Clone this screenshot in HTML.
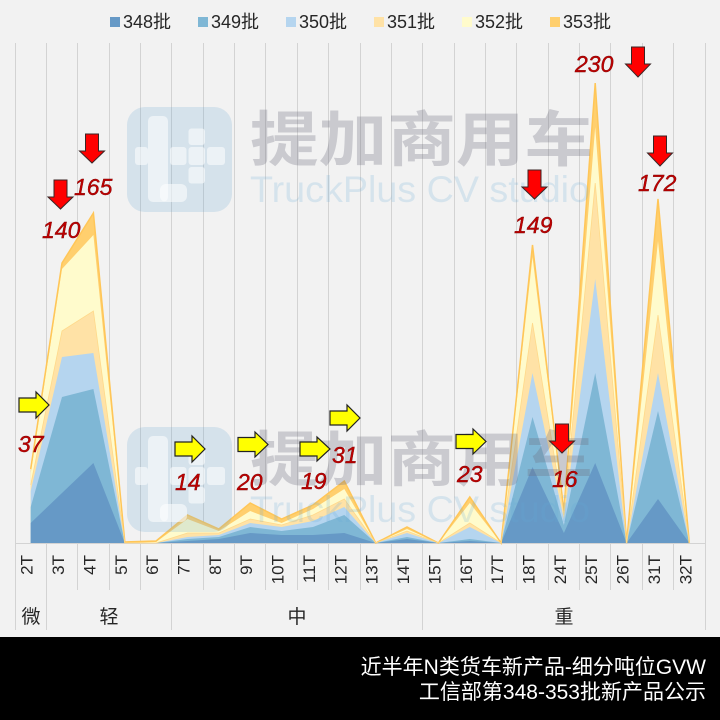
<!DOCTYPE html>
<html><head><meta charset="utf-8"><style>
html,body{margin:0;padding:0;background:#f2f2f2;}
svg{display:block;}
</style></head><body>
<svg width="720" height="720" viewBox="0 0 720 720" xmlns="http://www.w3.org/2000/svg">
<rect x="0" y="0" width="720" height="720" fill="#f2f2f2"/>
<!-- legend -->
<g font-family="'Liberation Sans','Noto Sans CJK SC',sans-serif" font-size="18" fill="#262626">
<rect x="110" y="17" width="10" height="10" fill="#6699C6"/><text x="123" y="28">348批</text>
<rect x="198" y="17" width="10" height="10" fill="#7FB7D5"/><text x="211" y="28">349批</text>
<rect x="286" y="17" width="10" height="10" fill="#B5D5EF"/><text x="299" y="28">350批</text>
<rect x="374" y="17" width="10" height="10" fill="#FFE2A6"/><text x="387" y="28">351批</text>
<rect x="462" y="17" width="10" height="10" fill="#FFFBCC"/><text x="475" y="28">352批</text>
<rect x="550" y="17" width="10" height="10" fill="#FFCF6E"/><text x="563" y="28">353批</text>
</g>
<!-- gridlines -->
<g stroke="#d3d3d3" stroke-width="1">
<line x1="15.5" y1="43" x2="15.5" y2="630"/>
<line x1="46.5" y1="43" x2="46.5" y2="630"/>
<line x1="77.5" y1="43" x2="77.5" y2="590"/>
<line x1="109.5" y1="43" x2="109.5" y2="590"/>
<line x1="140.5" y1="43" x2="140.5" y2="590"/>
<line x1="171.5" y1="43" x2="171.5" y2="630"/>
<line x1="203.5" y1="43" x2="203.5" y2="590"/>
<line x1="234.5" y1="43" x2="234.5" y2="590"/>
<line x1="265.5" y1="43" x2="265.5" y2="590"/>
<line x1="297.5" y1="43" x2="297.5" y2="590"/>
<line x1="328.5" y1="43" x2="328.5" y2="590"/>
<line x1="360.5" y1="43" x2="360.5" y2="590"/>
<line x1="391.5" y1="43" x2="391.5" y2="590"/>
<line x1="422.5" y1="43" x2="422.5" y2="630"/>
<line x1="454.5" y1="43" x2="454.5" y2="590"/>
<line x1="485.5" y1="43" x2="485.5" y2="590"/>
<line x1="516.5" y1="43" x2="516.5" y2="590"/>
<line x1="548.5" y1="43" x2="548.5" y2="590"/>
<line x1="579.5" y1="43" x2="579.5" y2="590"/>
<line x1="610.5" y1="43" x2="610.5" y2="590"/>
<line x1="642.5" y1="43" x2="642.5" y2="590"/>
<line x1="673.5" y1="43" x2="673.5" y2="590"/>
<line x1="705.5" y1="43" x2="705.5" y2="630"/>
<line x1="15" y1="543.5" x2="706" y2="543.5"/>
</g>
<!-- areas -->
<g>
<polygon fill="#FFCF6E" points="30.7,469 62,263 93.4,213 124.8,542 156.1,541 187.5,515 218.9,529 250.2,503 281.6,519 313,505 344.3,481 375.7,543 407,527 438.4,543 469.8,497 501.1,543 532.5,245 563.9,511 595.2,83 626.6,543 658,199 689.3,543 30.7,543"/>
<polygon fill="#FFFBCC" points="30.7,473 62,269 93.4,235 124.8,543 156.1,542 187.5,519 218.9,531 250.2,511 281.6,523 313,509 344.3,489 375.7,543 407,529 438.4,543 469.8,503 501.1,543 532.5,257 563.9,513 595.2,127 626.6,543 658,241 689.3,543 30.7,543"/>
<polygon fill="#FFE2A6" points="30.7,485 62,331 93.4,311 124.8,543 156.1,543 187.5,533 218.9,533 250.2,519 281.6,525 313,515 344.3,499 375.7,543 407,531 438.4,543 469.8,523 501.1,543 532.5,323 563.9,515 595.2,183 626.6,543 658,315 689.3,543 30.7,543"/>
<polygon fill="#B5D5EF" points="30.7,491 62,357 93.4,353 124.8,543 156.1,543 187.5,537 218.9,535 250.2,523 281.6,527 313,521 344.3,507 375.7,543 407,533 438.4,543 469.8,527 501.1,543 532.5,373 563.9,519 595.2,279 626.6,543 658,373 689.3,543 30.7,543"/>
<polygon fill="#7FB7D5" points="30.7,507 62,397 93.4,389 124.8,543 156.1,543 187.5,539 218.9,537 250.2,527 281.6,531 313,527 344.3,515 375.7,543 407,537 438.4,543 469.8,539 501.1,543 532.5,417 563.9,525 595.2,373 626.6,543 658,411 689.3,543 30.7,543"/>
<polygon fill="#6699C6" points="30.7,523 62,493 93.4,463 124.8,543 156.1,543 187.5,541 218.9,539 250.2,533 281.6,535 313,535 344.3,533 375.7,543 407,539 438.4,543 469.8,541 501.1,543 532.5,467 563.9,533 595.2,463 626.6,543 658,499 689.3,543 30.7,543"/>
<polyline fill="none" stroke="#FFC658" stroke-width="1.5" points="30.7,469 62,263 93.4,213 124.8,542 156.1,541 187.5,515 218.9,529 250.2,503 281.6,519 313,505 344.3,481 375.7,543 407,527 438.4,543 469.8,497 501.1,543 532.5,245 563.9,511 595.2,83 626.6,543 658,199 689.3,543"/>
<polyline fill="none" stroke="#FFD98A" stroke-width="0.8" points="30.7,485 62,331 93.4,311 124.8,543 156.1,543 187.5,533 218.9,533 250.2,519 281.6,525 313,515 344.3,499 375.7,543 407,531 438.4,543 469.8,523 501.1,543 532.5,323 563.9,515 595.2,183 626.6,543 658,315 689.3,543"/>
</g>
<!-- watermarks -->
<g id="wm">
<rect x="127" y="107" width="105" height="105" rx="18" fill="rgba(110,170,210,0.22)"/>
<g fill="rgba(255,255,255,0.55)">
<rect x="148" y="116" width="20" height="86" rx="5"/>
<rect x="160" y="184" width="27" height="18" rx="6"/>
<rect x="135" y="147" width="13" height="18" rx="3"/>
<rect x="170" y="147" width="16.5" height="18" rx="3"/>
<rect x="188.5" y="128.5" width="16.5" height="16.5" rx="3"/>
<rect x="188.5" y="147" width="16.5" height="18" rx="3"/>
<rect x="207" y="147" width="18" height="18" rx="3"/>
<rect x="188.5" y="167" width="16.5" height="16.5" rx="3"/>
</g>
<text x="250" y="161" font-family="'Noto Sans CJK SC',sans-serif" font-weight="bold" font-size="60" fill="rgba(110,110,125,0.3)" textLength="343" lengthAdjust="spacingAndGlyphs">提加商用车</text>
<text x="250" y="202" font-family="'Liberation Sans',sans-serif" font-size="37" fill="rgba(100,170,215,0.2)" textLength="340" lengthAdjust="spacingAndGlyphs">TruckPlus CV studio</text>
</g>
<use href="#wm" transform="translate(0,320)"/>
<!-- red arrows -->
<g fill="#FF0000" stroke="#3a2626" stroke-width="1" stroke-linejoin="miter">
<polygon points="54,180 67,180 67,197 73,197 60.5,209 48,197 54,197"/>
<polygon points="85.5,134 98.5,134 98.5,151 104.5,151 92,163 79.5,151 85.5,151"/>
<polygon points="528,170 541,170 541,187 547,187 534.5,199 522,187 528,187"/>
<polygon points="555.5,424 568.5,424 568.5,441 574.5,441 562,453 549.5,441 555.5,441"/>
<polygon points="631.5,47 644.5,47 644.5,64 650.5,64 638,77 625.5,64 631.5,64"/>
<polygon points="653.5,136 666.5,136 666.5,153 672.5,153 660,166 647.5,153 653.5,153"/>
</g>
<!-- yellow arrows -->
<g fill="#FFFF00" stroke="#222" stroke-width="1.2" stroke-linejoin="miter">
<polygon points="19,398 36,398 36,392 49,405 36,418 36,412 19,412"/>
<polygon points="175,442 192,442 192,436 205,449 192,462 192,456 175,456"/>
<polygon points="238,437.5 255,437.5 255,432 268,444.5 255,457 255,451.5 238,451.5"/>
<polygon points="300,442 317,442 317,437 330,449 317,461 317,456 300,456"/>
<polygon points="330,411 347,411 347,405 360,418 347,431 347,425 330,425"/>
<polygon points="456,434.5 473,434.5 473,429 486,441.5 473,454 473,448.5 456,448.5"/>
</g>
<!-- value labels -->
<g font-family="'Liberation Sans',sans-serif" font-style="italic" font-size="23" fill="#C00000" stroke="#7a0000" stroke-width="0.4">
<text x="18" y="452">37</text>
<text x="42" y="238">140</text>
<text x="74" y="195">165</text>
<text x="175" y="490">14</text>
<text x="237" y="490">20</text>
<text x="301" y="489">19</text>
<text x="332" y="463">31</text>
<text x="457" y="482">23</text>
<text x="514" y="233">149</text>
<text x="552" y="487">16</text>
<text x="575" y="72">230</text>
<text x="638" y="191">172</text>
</g>
<!-- category labels -->
<g font-family="'Liberation Sans',sans-serif" font-size="17" fill="#262626" text-anchor="end">
<text transform="translate(32.7,555) rotate(-90)">2T</text>
<text transform="translate(64,555) rotate(-90)">3T</text>
<text transform="translate(95.4,555) rotate(-90)">4T</text>
<text transform="translate(126.8,555) rotate(-90)">5T</text>
<text transform="translate(158.1,555) rotate(-90)">6T</text>
<text transform="translate(189.5,555) rotate(-90)">7T</text>
<text transform="translate(220.9,555) rotate(-90)">8T</text>
<text transform="translate(252.2,555) rotate(-90)">9T</text>
<text transform="translate(283.6,555) rotate(-90)">10T</text>
<text transform="translate(315,555) rotate(-90)">11T</text>
<text transform="translate(346.3,555) rotate(-90)">12T</text>
<text transform="translate(377.7,555) rotate(-90)">13T</text>
<text transform="translate(409,555) rotate(-90)">14T</text>
<text transform="translate(440.4,555) rotate(-90)">15T</text>
<text transform="translate(471.8,555) rotate(-90)">16T</text>
<text transform="translate(503.1,555) rotate(-90)">17T</text>
<text transform="translate(534.5,555) rotate(-90)">18T</text>
<text transform="translate(565.9,555) rotate(-90)">24T</text>
<text transform="translate(597.2,555) rotate(-90)">25T</text>
<text transform="translate(628.6,555) rotate(-90)">26T</text>
<text transform="translate(660,555) rotate(-90)">31T</text>
<text transform="translate(691.3,555) rotate(-90)">32T</text>
</g>
<!-- group labels -->
<g font-family="'Noto Sans CJK SC',sans-serif" font-size="19" fill="#262626" text-anchor="middle">
<text x="31" y="623">微</text>
<text x="109" y="623">轻</text>
<text x="297" y="623">中</text>
<text x="564" y="623">重</text>
</g>
<!-- bottom band -->
<rect x="0" y="637" width="720" height="83" fill="#000"/>
<g font-family="'Liberation Sans','Noto Sans CJK SC',sans-serif" font-size="21" fill="#fff" text-anchor="end">
<text x="706" y="674">近半年N类货车新产品-细分吨位GVW</text>
<text x="706" y="699">工信部第348-353批新产品公示</text>
</g>
</svg>
</body></html>
